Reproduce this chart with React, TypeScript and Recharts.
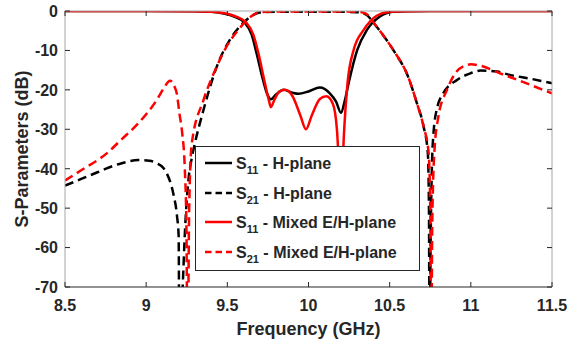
import React from "react";
import { Label, Legend, Line, LineChart, XAxis, YAxis } from "recharts";

// frequency in GHz, magnitude in dB
const FREQ_TICKS = [8.5, 9, 9.5, 10, 10.5, 11, 11.5];
const DB_TICKS = [-70, -60, -50, -40, -30, -20, -10, 0];

const s11HFreq = [8.5, 9.0, 9.3, 9.4, 9.47, 9.535, 9.61, 9.65, 9.68, 9.72, 9.745, 9.768, 9.8, 9.846, 9.9, 9.938, 10.0, 10.07, 10.13, 10.17, 10.2, 10.225, 10.247, 10.3, 10.36, 10.44, 10.52, 10.6, 11.0, 11.5];
const s11HDb = [0, 0, -0.05, -0.2, -0.6, -1.3, -3.1, -6, -10.7, -17.5, -21, -22.4, -21.2, -20.0, -20.7, -21.0, -20.4, -19.4, -20.8, -23, -25.8, -22.5, -18.3, -9.9, -4.8, -1.4, -0.2, -0.05, 0, 0];

const s21HFreq = [8.5, 8.6, 8.7, 8.757, 8.85, 8.952, 9.02, 9.065, 9.106, 9.127, 9.168, 9.19, 9.2, 9.205, 9.225, 9.24, 9.26, 9.28, 9.3, 9.353, 9.435, 9.52, 9.58, 9.64, 9.7, 9.8, 10.0, 10.2, 10.3, 10.35, 10.42, 10.48, 10.535, 10.607, 10.668, 10.709, 10.735, 10.742, 10.746, 10.752, 10.76, 10.77, 10.79, 10.83, 10.915, 10.997, 11.06, 11.15, 11.24, 11.37, 11.5];
const s21HDb = [-44.3, -42.6, -40.9, -39.9, -38.6, -37.8, -38.0, -38.6, -39.8, -41.2, -46.5, -52, -57, -90, -70, -55, -43, -37.5, -33.6, -25.1, -14.1, -7, -3.8, -1.5, -0.4, -0.2, -0.2, -0.2, -0.3, -0.8, -4.0, -7.3, -10.7, -16, -23.4, -29.3, -36, -50, -90, -60, -40, -31, -25, -20.9, -17.5, -15.8, -15.1, -15.3, -16.2, -17.2, -18.3];

const s11MFreq = [8.5, 9.0, 9.3, 9.4, 9.47, 9.54, 9.62, 9.66, 9.69, 9.73, 9.755, 9.768, 9.79, 9.82, 9.856, 9.9, 9.95, 9.984, 10.02, 10.07, 10.11, 10.15, 10.175, 10.19, 10.197, 10.205, 10.22, 10.24, 10.278, 10.34, 10.42, 10.5, 10.6, 11.0, 11.5];
const s11MDb = [0, 0, -0.05, -0.2, -0.5, -1.2, -3.1, -6, -10.5, -18, -22.5, -24.4, -22.5, -20.5, -20.0, -21.5, -26.5, -30.0, -26.5, -22.3, -21.6, -23.5, -30, -45, -60, -45, -30, -18.5, -9.9, -4.8, -1.2, -0.2, -0.05, 0, 0];

const s21MFreq = [8.5, 8.6, 8.757, 8.85, 8.942, 9.0, 9.065, 9.11, 9.147, 9.175, 9.189, 9.205, 9.222, 9.238, 9.248, 9.255, 9.265, 9.281, 9.353, 9.425, 9.51, 9.568, 9.62, 9.7, 9.8, 10.0, 10.2, 10.3, 10.35, 10.42, 10.48, 10.535, 10.607, 10.668, 10.709, 10.74, 10.75, 10.756, 10.762, 10.775, 10.8, 10.853, 10.904, 10.976, 11.0, 11.06, 11.18, 11.34, 11.5];
const s21MDb = [-43, -40.4, -36.1, -32.5, -28.9, -26.2, -22.6, -19.5, -17.7, -19.2, -21, -26, -31, -40, -55, -90, -50, -33.6, -22.6, -15.0, -8.0, -4.8, -2.3, -0.3, -0.1, -0.1, -0.1, -0.2, -0.6, -4.0, -7.3, -10.7, -16, -23.4, -29.3, -36, -50, -90, -55, -36, -26.8, -20, -15.8, -13.7, -13.5, -13.9, -15.8, -18.3, -20.9];

const LEGEND_ROWS = [
  { sub: "11", text: " - H-plane", color: "#000000", dashed: false },
  { sub: "21", text: " - H-plane", color: "#000000", dashed: true },
  { sub: "11", text: " - Mixed E/H-plane", color: "#ff0000", dashed: false },
  { sub: "21", text: " - Mixed E/H-plane", color: "#ff0000", dashed: true },
];

const FONT = "'Liberation Sans', Arial, Helvetica, sans-serif";
const INK = "#262626";
const FRAME = "#a6a6a6";
const DASH = "9 5";

const toPoints = (freq: number[], db: number[]) => freq.map((f, i) => ({ f, db: db[i] }));

const s11H = toPoints(s11HFreq, s11HDb);
const s21H = toPoints(s21HFreq, s21HDb);
const s11M = toPoints(s11MFreq, s11MDb);
const s21M = toPoints(s21MFreq, s21MDb);

const tickText = { fontFamily: FONT, fontSize: 16, fontWeight: 700, fill: INK };

// ticks point into the plot on all four sides
const BottomTick = ({ x, y, payload }: any) => (
  <g>
    <line x1={x} x2={x} y1={y} y2={y - 5} stroke={INK} />
    <text x={x} y={y + 24} textAnchor="middle" style={tickText}>
      {payload.value}
    </text>
  </g>
);

const TopTick = ({ x, y }: any) => <line x1={x} x2={x} y1={y} y2={y + 5} stroke={INK} />;

const LeftTick = ({ x, y, payload }: any) => (
  <g>
    <line x1={x} x2={x + 5} y1={y} y2={y} stroke={INK} />
    <text x={x - 7} y={y + 5.8} textAnchor="end" style={tickText}>
      {payload.value}
    </text>
  </g>
);

const RightTick = ({ x, y }: any) => <line x1={x} x2={x - 5} y1={y} y2={y} stroke={INK} />;

const LegendBox = () => (
  <div
    style={{
      width: 225,
      height: 125,
      boxSizing: "border-box",
      border: `1px solid ${INK}`,
      background: "#ffffff",
    }}
  >
    <svg width={223} height={123} style={{ display: "block" }}>
      {LEGEND_ROWS.map((row, i) => {
        const cy = [16, 46, 75, 105][i];
        return (
          <g key={i}>
            <line
              x1={9}
              x2={36}
              y1={cy}
              y2={cy}
              stroke={row.color}
              strokeWidth={2.5}
              strokeDasharray={row.dashed ? "6.5 4" : undefined}
            />
            <text x={40} y={cy + 5.8} style={{ ...tickText, whiteSpace: "pre" }}>
              S
              <tspan dy={5} fontSize={11}>
                {row.sub}
              </tspan>
              <tspan dy={-5}>{row.text}</tspan>
            </text>
          </g>
        );
      })}
    </svg>
  </div>
);

export default function App() {
  return (
    <div style={{ position: "absolute", left: 0, top: 0, width: 569, height: 344, background: "#ffffff" }}>
      <LineChart width={569} height={344} margin={{ top: 10, right: 16, left: 15, bottom: 0 }}>
        <XAxis
          dataKey="f"
          type="number"
          domain={[8.5, 11.5]}
          ticks={FREQ_TICKS}
          allowDataOverflow
          height={57}
          tickSize={0}
          tickMargin={0}
          tickLine={false}
          axisLine={{ stroke: INK }}
          tick={BottomTick}
        >
          <Label
            content={({ viewBox }: any) => (
              <text
                x={viewBox.x + viewBox.width / 2}
                y={viewBox.y + 48}
                textAnchor="middle"
                style={{ ...tickText, fontSize: 18 }}
              >
                Frequency (GHz)
              </text>
            )}
          />
        </XAxis>
        <XAxis
          xAxisId="top"
          orientation="top"
          dataKey="f"
          type="number"
          domain={[8.5, 11.5]}
          ticks={FREQ_TICKS}
          allowDataOverflow
          height={1}
          tickSize={0}
          tickMargin={0}
          tickLine={false}
          axisLine={{ stroke: FRAME }}
          tick={TopTick}
        />
        <YAxis
          type="number"
          domain={[-70, 0]}
          ticks={DB_TICKS}
          allowDataOverflow
          width={50}
          tickSize={0}
          tickMargin={0}
          tickLine={false}
          axisLine={{ stroke: FRAME }}
          tick={LeftTick}
        >
          <Label
            content={({ viewBox }: any) => {
              const cx = viewBox.x + 7;
              const cy = viewBox.y + viewBox.height / 2;
              return (
                <text
                  x={cx}
                  y={cy}
                  transform={`rotate(-90 ${cx} ${cy})`}
                  textAnchor="middle"
                  dominantBaseline="central"
                  style={{ ...tickText, fontSize: 18 }}
                >
                  S-Parameters (dB)
                </text>
              );
            }}
          />
        </YAxis>
        <YAxis
          yAxisId="right"
          orientation="right"
          type="number"
          domain={[-70, 0]}
          ticks={DB_TICKS}
          allowDataOverflow
          width={1}
          tickSize={0}
          tickMargin={0}
          tickLine={false}
          axisLine={{ stroke: FRAME }}
          tick={RightTick}
        />
        <Legend
          layout="vertical"
          align="center"
          verticalAlign="middle"
          content={LegendBox}
          wrapperStyle={{ left: 195, top: 146, width: 225, height: 125 }}
        />
        <Line data={s11H} dataKey="db" name="S11 - H-plane" type="monotone" stroke="#000000" strokeWidth={2.5} dot={false} isAnimationActive={false} />
        <Line data={s21H} dataKey="db" name="S21 - H-plane" type="monotone" stroke="#000000" strokeWidth={2.5} strokeDasharray={DASH} dot={false} isAnimationActive={false} />
        <Line data={s11M} dataKey="db" name="S11 - Mixed E/H-plane" type="monotone" stroke="#ff0000" strokeWidth={2.5} dot={false} isAnimationActive={false} />
        <Line data={s21M} dataKey="db" name="S21 - Mixed E/H-plane" type="monotone" stroke="#ff0000" strokeWidth={2.5} strokeDasharray={DASH} dot={false} isAnimationActive={false} />
      </LineChart>
    </div>
  );
}
